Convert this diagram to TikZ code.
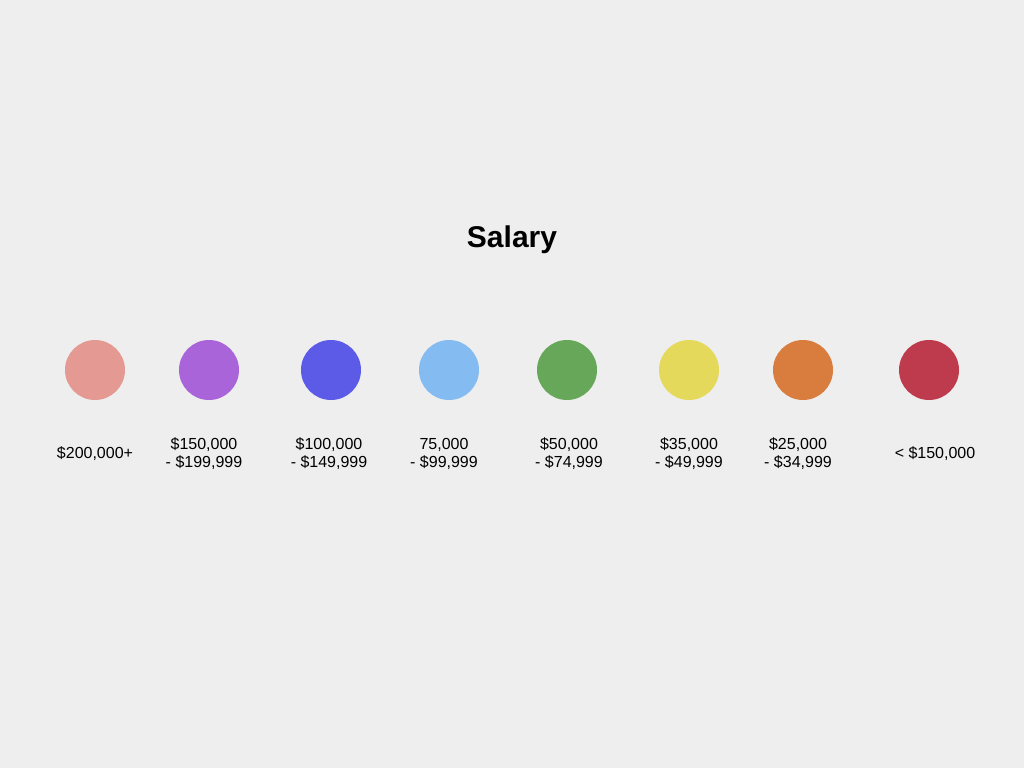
\documentclass[tikz,border=0pt]{standalone}
\usepackage{fontspec}
\setmainfont{Liberation Sans}
\definecolor{bg}{HTML}{EEEEEE}
\definecolor{cA}{HTML}{E49A92}
\definecolor{cB}{HTML}{A864D8}
\definecolor{cC}{HTML}{5B5BE8}
\definecolor{cD}{HTML}{84BCF2}
\definecolor{cE}{HTML}{67A75A}
\definecolor{cF}{HTML}{E5D95C}
\definecolor{cG}{HTML}{D97D3E}
\definecolor{cH}{HTML}{BE3B4E}
\tikzset{
  dot/.style={circle, minimum size=60pt, inner sep=0pt, draw=none},
  lbl/.style={align=center, inner sep=0pt, font=\fontsize{16pt}{18pt}\selectfont, text=black},
  ttl/.style={inner sep=0pt, font=\fontsize{30pt}{34pt}\selectfont\bfseries}
}
\begin{document}
\begin{tikzpicture}[x=1pt,y=-1pt]
\fill[bg] (0,0) rectangle (1024,768);
\useasboundingbox (0,0) rectangle (1024,768);
\node[ttl] (title) at (512,240) {Salary};
\node[dot, fill=cA] (d1) at (95,370) {};
\node[dot, fill=cB] (d2) at (209,370) {};
\node[dot, fill=cC] (d3) at (331,370) {};
\node[dot, fill=cD] (d4) at (449,370) {};
\node[dot, fill=cE] (d5) at (567,370) {};
\node[dot, fill=cF] (d6) at (689,370) {};
\node[dot, fill=cG] (d7) at (803,370) {};
\node[dot, fill=cH] (d8) at (929,370) {};
\node[lbl] (l1) at (95,453.5) {\$200,000+};
\node[lbl] (l2) at (204,453.5) {\$150,000\\- \$199,999};
\node[lbl] (l3) at (329,453.5) {\$100,000\\- \$149,999};
\node[lbl] (l4) at (444,453.5) {75,000\\- \$99,999};
\node[lbl] (l5) at (569,453.5) {\$50,000\\- \$74,999};
\node[lbl] (l6) at (689,453.5) {\$35,000\\- \$49,999};
\node[lbl] (l7) at (798,453.5) {\$25,000\\- \$34,999};
\node[lbl] (l8) at (935,453.5) {< \$150,000};
\end{tikzpicture}
\end{document}
